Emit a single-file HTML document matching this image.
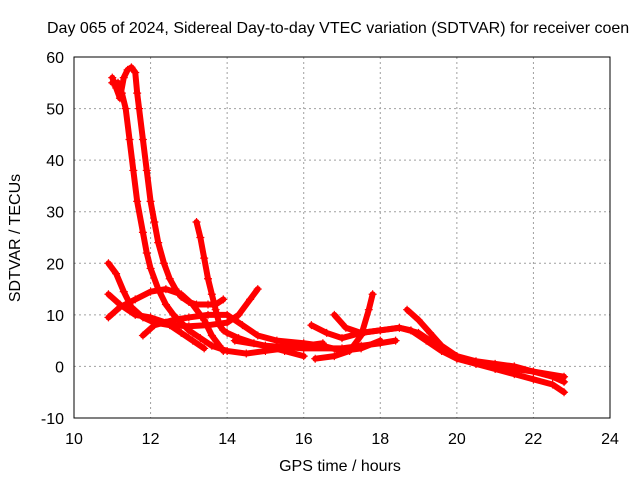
<!DOCTYPE html>
<html><head><meta charset="utf-8"><style>
body{margin:0;background:#fff;overflow:hidden}
svg text{font-family:"Liberation Sans",sans-serif;font-size:16px;fill:#000}
</style></head><body>
<svg id="chart" width="640" height="480">
<text x="47" y="33">Day 065 of 2024, Sidereal Day-to-day VTEC variation (SDTVAR) for receiver coen</text>
<text x="340" y="471" text-anchor="middle">GPS time / hours</text>
<text transform="translate(20,238) rotate(-90)" text-anchor="middle">SDTVAR / TECUs</text>
<g id="grid"></g><g id="series"></g><g id="ticks"></g>
<rect x="74" y="57" width="536" height="361" fill="none" stroke="#000"/>
</svg>
<script>
const xTicks=[10,12,14,16,18,20,22,24];
const yTicks=[-10,0,10,20,30,40,50,60];
const trackA=[[11.0,56],[11.1,54],[11.2,52],[11.3,56],[11.4,57.5],[11.5,58],[11.6,57],[11.65,53],[11.7,50],[11.8,44],[11.9,38],[12.0,32],[12.1,28],[12.2,24],[12.35,20],[12.5,17],[12.65,15],[12.8,13.5],[13.0,12.5],[13.2,12],[13.5,12],[13.7,12],[13.9,13]];
const trackB=[[11.0,55],[11.15,55],[11.25,53],[11.35,50],[11.45,44],[11.55,38],[11.65,32],[11.8,26],[11.9,22],[12.0,19],[12.2,15],[12.4,12],[12.6,10],[12.8,8.5],[13.0,7],[13.3,5.5],[13.6,4],[14.0,3],[14.5,2.5],[15.0,3],[15.5,3.5],[16.0,4],[16.5,4.5]];
const trackC=[[13.2,28],[13.3,25],[13.4,21],[13.5,17],[13.6,14],[13.7,11],[13.8,8],[13.9,7],[14.0,6.5],[14.3,5.5],[14.7,4.5],[15.0,4],[15.5,3],[16.0,2]];
const trackD=[[10.9,20],[11.1,18],[11.3,14.5],[11.5,11.5],[11.8,9.5],[12.1,8.5],[12.5,8],[13.0,7.8],[13.5,8],[14.0,8.5],[14.3,10],[14.6,13],[14.8,15]];
const trackE=[[10.9,14],[11.2,12],[11.6,10],[12.0,9.5],[12.4,8.5],[12.8,6.5],[13.1,5],[13.4,3.5]];
const trackF=[[10.9,9.5],[11.2,11.5],[11.6,13],[12.0,14.5],[12.4,15],[12.8,14],[13.1,12],[13.4,9],[13.6,6],[13.8,4],[13.9,3]];
const trackG=[[11.8,6],[12.1,8],[12.6,9],[13.0,9.5],[13.5,10],[14.0,10],[14.4,8],[14.8,6],[15.3,5],[16.0,4.5],[16.5,4],[17.0,3],[17.5,3.5],[18.0,5]];
const trackH=[[16.2,8],[16.6,6.5],[17.0,5.5],[17.5,6.5],[18.0,7],[18.5,7.5],[18.8,7],[19.2,5],[19.6,3],[20.0,1.5],[20.5,0.5],[21.0,0],[21.5,-0.5],[22.0,-1],[22.8,-2]];
const trackI=[[16.3,1.5],[16.8,2],[17.2,3],[17.5,6],[17.7,11],[17.8,14]];
const trackJ=[[18.7,11],[19.0,9],[19.3,6.5],[19.6,4],[20.0,2],[20.5,0.5],[21.0,-0.5],[21.5,-1.5],[22.0,-2.5],[22.5,-3.5],[22.8,-5]];
const trackK=[[16.8,10],[17.1,7.5],[17.5,6.5],[18.0,7],[18.5,7.5],[19.0,6.5],[19.5,4],[20.0,2],[20.5,1],[21.0,0.5],[21.5,0],[22.0,-1],[22.5,-2],[22.8,-3]];
const trackL=[[14.2,5],[15.0,4],[16.0,3.5],[17.0,3.5],[17.5,4],[18.0,4.5],[18.4,5]];
const tracks=[trackA,trackB,trackC,trackD,trackE,trackF,trackG,trackH,trackI,trackJ,trackK,trackL];
const X=v=>74+(v-10)*536/14, Y=v=>418-(v+10)*361/70;
const NS="http://www.w3.org/2000/svg";
const g=document.getElementById('grid'),tk=document.getElementById('ticks'),s=document.getElementById('series');
function mk(t,a,p){const e=document.createElementNS(NS,t);for(const k in a)e.setAttribute(k,a[k]);p.appendChild(e);return e;}
xTicks.forEach(v=>{
 if(v>10&&v<24){const l=mk('line',{x1:X(v),x2:X(v),y1:57,y2:418,stroke:'#a0a0a0','stroke-dasharray':'2,3'},g);
 
 }
 const t=mk('text',{x:X(v),y:444,'text-anchor':'middle'},tk);t.textContent=v;
 
 
});
yTicks.forEach(v=>{
 if(v>-10&&v<60){const l=mk('line',{x1:74,x2:610,y1:Y(v),y2:Y(v),stroke:'#a0a0a0','stroke-dasharray':'2,3'},g);
 
 }
 const t=mk('text',{x:64,y:Y(v)+6,'text-anchor':'end'},tk);t.textContent=v;
 
 
});
tracks.forEach((tr,i)=>{
 const pl=mk('polyline',{points:tr.map(p=>X(p[0])+','+Y(p[1])).join(' '),fill:'none',stroke:'#f00','stroke-width':6,'stroke-linejoin':'round','stroke-linecap':'round'},s);
 
 
 tr.forEach(p=>{const x=X(p[0]),y=Y(p[1]);
  const m=mk('path',{d:`M${x-4},${y}h8M${x},${y-4}v8`,stroke:'#f00','stroke-width':1.2},s);
  
  });
});
</script>
</body></html>
